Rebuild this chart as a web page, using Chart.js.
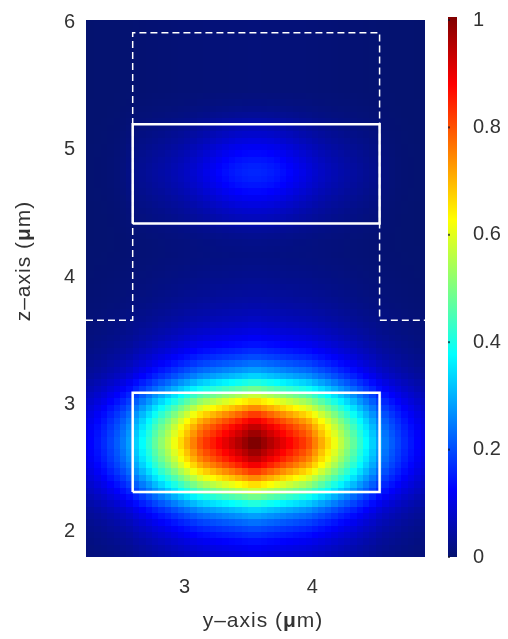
<!DOCTYPE html>
<html>
<head>
<meta charset="utf-8">
<script src="https://cdn.jsdelivr.net/npm/chart.js@4.4.1/dist/chart.umd.min.js"></script>
<style>
  html, body { margin: 0; padding: 0; background: #fff; }
  canvas { display: block; }
</style>
</head>
<body>
<canvas id="myChart" width="508" height="639"></canvas>
<script>
// field grid: cell centres start here, 0.05 um cells
const gridY0 = 2.225;
const gridZ0 = 1.825;
const gridStep = 0.05;

// lower guide mode, profile across y and along z
const lowerY = [
  0.11, 0.125, 0.145, 0.165, 0.19, 0.215, 0.245, 0.28, 0.33, 0.375, 0.42, 0.47, 0.515, 0.56,
  0.61, 0.66, 0.705, 0.75, 0.795, 0.825, 0.85, 0.875, 0.9, 0.925, 0.95, 0.975, 1.0,
  1.0, 0.975, 0.95, 0.925, 0.9, 0.875, 0.85, 0.825, 0.795, 0.75, 0.705, 0.66, 0.61,
  0.56, 0.515, 0.47, 0.42, 0.375, 0.33, 0.28, 0.245, 0.215, 0.19, 0.165, 0.145, 0.125, 0.11
];
const lowerZ = [
  0.10, 0.118, 0.14, 0.167, 0.198, 0.235, 0.28, 0.332, 0.406, 0.486, 0.57, 0.655,
  0.739, 0.817, 0.885, 0.935, 0.97, 1.0, 1.0, 0.97, 0.935, 0.885, 0.817, 0.739,
  0.655, 0.57, 0.486, 0.406, 0.332, 0.28, 0.235, 0.198, 0.167, 0.14, 0.118, 0.10,
  0.085, 0.072, 0.062, 0.053, 0.046, 0.04, 0.035, 0.031, 0.027, 0.024, 0.021, 0.019,
  0.017, 0.015, 0.014, 0.013, 0.012, 0.011, 0.01, 0.01, 0.01, 0.01, 0.01, 0.01,
  0.01, 0.01, 0.01, 0.01, 0.01, 0.01, 0.01, 0.01, 0.01, 0.01, 0.01, 0.01,
  0.01, 0.01, 0.01, 0.01, 0.01, 0.01, 0.01, 0.01, 0.01, 0.01, 0.01, 0.01, 0.01
];

// weak glow in the upper guide
const upperY = [
  0.01, 0.01, 0.015, 0.02, 0.03, 0.045, 0.07, 0.12, 0.16, 0.19, 0.22, 0.25, 0.28, 0.315,
  0.355, 0.40, 0.45, 0.51, 0.575, 0.645, 0.715, 0.785, 0.85, 0.91, 0.955, 0.985, 1.0,
  1.0, 0.985, 0.955, 0.91, 0.85, 0.785, 0.715, 0.645, 0.575, 0.51, 0.45, 0.40, 0.355,
  0.315, 0.28, 0.25, 0.22, 0.19, 0.16, 0.12, 0.07, 0.045, 0.03, 0.02, 0.015, 0.01, 0.01
];
const upperZ = [
  0, 0, 0, 0, 0, 0, 0, 0, 0, 0, 0, 0,
  0, 0, 0, 0, 0, 0, 0, 0, 0, 0, 0, 0,
  0, 0, 0, 0, 0, 0, 0, 0, 0, 0, 0, 0,
  0, 0, 0, 0, 0, 0, 0, 0, 0, 0, 0, 0,
  0.004, 0.008, 0.015, 0.025, 0.04, 0.057, 0.072, 0.088, 0.105, 0.121, 0.135, 0.145,
  0.15, 0.145, 0.135, 0.121, 0.105, 0.088, 0.072, 0.057, 0.04, 0.025, 0.015, 0.008,
  0.004, 0, 0, 0, 0, 0, 0, 0, 0, 0, 0, 0, 0
];

const yTicks = [3, 4];
const zTicks = [2, 3, 4, 5, 6];
const barTicks = [0, 0.2, 0.4, 0.6, 0.8, 1];

// guide outlines (um)
const coreY = [2.595, 4.525];
const lowerCoreZ = [2.31, 3.09];
const upperCoreZ = [4.42, 5.20];
const ridgeY = [2.23, 2.595, 2.595, 4.525, 4.525, 4.88];
const ridgeZ = [3.66, 3.66, 5.92, 5.92, 3.66, 3.66];

const font = "'Liberation Sans', Arial, sans-serif";
const textColor = '#333';

const jetStops = [
  [0, [4, 18, 110]],
  [0.125, [0, 0, 255]],
  [0.375, [0, 255, 255]],
  [0.625, [255, 255, 0]],
  [0.875, [255, 0, 0]],
  [1, [128, 0, 0]]
];

function jet(v) {
  v = Math.max(0, Math.min(1, v));
  for (let k = 1; k < jetStops.length; k++) {
    const [p1, c1] = jetStops[k];
    const [p0, c0] = jetStops[k - 1];
    if (v <= p1) {
      const t = (v - p0) / (p1 - p0);
      const c = c0.map((a, n) => Math.round(a + (c1[n] - a) * t));
      return `rgb(${c[0]},${c[1]},${c[2]})`;
    }
  }
  return 'rgb(128,0,0)';
}

function box(ys, zs) {
  return [
    {x: ys[0], y: zs[0]}, {x: ys[1], y: zs[0]}, {x: ys[1], y: zs[1]},
    {x: ys[0], y: zs[1]}, {x: ys[0], y: zs[0]}
  ];
}

const heatmap = {
  id: 'heatmap',
  beforeDatasetsDraw(chart) {
    const {ctx, chartArea: a, scales: {x, y}} = chart;
    ctx.save();
    ctx.beginPath();
    ctx.rect(a.left, a.top, a.right - a.left, a.bottom - a.top);
    ctx.clip();
    ctx.fillStyle = jet(0);
    ctx.fillRect(a.left, a.top, a.right - a.left, a.bottom - a.top);
    for (let i = 0; i < lowerY.length; i++) {
      const yc = gridY0 + i * gridStep;
      const x0 = Math.floor(x.getPixelForValue(yc - gridStep / 2));
      const x1 = Math.ceil(x.getPixelForValue(yc + gridStep / 2));
      for (let j = 0; j < lowerZ.length; j++) {
        const zc = gridZ0 + j * gridStep;
        const y0 = Math.floor(y.getPixelForValue(zc + gridStep / 2));
        const y1 = Math.ceil(y.getPixelForValue(zc - gridStep / 2));
        ctx.fillStyle = jet(lowerY[i] * lowerZ[j] + upperY[i] * upperZ[j]);
        ctx.fillRect(x0, y0, x1 - x0, y1 - y0);
      }
    }
    ctx.restore();
  }
};

// axis title with a bold mu, centred on (cx, cy)
function drawTitle(ctx, text, cx, cy, rot) {
  const parts = [[text + ' (', ''], ['\u03bc', 'bold '], ['m)', '']];
  ctx.save();
  ctx.translate(cx, cy);
  ctx.rotate(rot);
  ctx.fillStyle = textColor;
  ctx.textBaseline = 'middle';
  ctx.textAlign = 'left';
  ctx.letterSpacing = '1px';
  let total = 0;
  parts.forEach(([s, b]) => { ctx.font = b + '21px ' + font; total += ctx.measureText(s).width; });
  let px = -total / 2;
  parts.forEach(([s, b]) => {
    ctx.font = b + '21px ' + font;
    ctx.fillText(s, px, 0);
    px += ctx.measureText(s).width;
  });
  ctx.restore();
}

const colorbar = {
  id: 'colorbar',
  afterDraw(chart) {
    const {ctx} = chart;
    const cb = chart.scales.cb;
    const top = cb.getPixelForValue(1) - 3;
    const bottom = cb.getPixelForValue(0);
    const left = 448, w = 9;
    const g = ctx.createLinearGradient(0, bottom, 0, top);
    jetStops.forEach(([p, c]) => g.addColorStop(p, `rgb(${c[0]},${c[1]},${c[2]})`));
    ctx.save();
    ctx.fillStyle = g;
    ctx.fillRect(left, top, w, bottom - top);
    ctx.fillStyle = 'rgba(20,20,40,0.7)';
    barTicks.forEach(v => {
      const py = cb.getPixelForValue(v);
      ctx.fillRect(left, py - 1, 2, 2);
    });
    ctx.restore();

    drawTitle(ctx, 'y\u2013axis', 263, 621, 0);
    drawTitle(ctx, 'z\u2013axis', 24, 261, -Math.PI / 2);
  }
};

const lineStyle = {
  showLine: true, pointRadius: 0, borderColor: '#ffffff', borderWidth: 2.5, fill: false
};

const data = {
  datasets: [
    {...lineStyle, label: 'lower guide', data: box(coreY, lowerCoreZ)},
    {...lineStyle, label: 'upper guide', data: box(coreY, upperCoreZ)},
    {
      ...lineStyle, label: 'ridge', borderWidth: 1.5, borderDash: [7, 4],
      data: ridgeY.map((v, k) => ({x: v, y: ridgeZ[k]}))
    }
  ]
};

const tickFont = {family: font, size: 20};
const fmt = v => String(+Number(v).toFixed(1));

new Chart(document.getElementById('myChart').getContext('2d'), {
  type: 'scatter',
  data: data,
  options: {
    responsive: false,
    animation: false,
    layout: {padding: {top: 20, left: 0, right: 0, bottom: 0}},
    plugins: {legend: {display: false}, tooltip: {enabled: false}},
    scales: {
      x: {
        type: 'linear', position: 'bottom', min: 2.23, max: 4.88,
        grid: {display: false, drawTicks: false}, border: {display: false},
        afterBuildTicks: s => { s.ticks = yTicks.map(v => ({value: v})); },
        afterFit: s => { s.height = 82; },
        ticks: {font: tickFont, color: textColor, padding: 18, callback: fmt}
      },
      y: {
        type: 'linear', position: 'left', min: 1.80, max: 6.02,
        grid: {display: false, drawTicks: true, tickLength: 11}, border: {display: false},
        afterBuildTicks: s => { s.ticks = zTicks.map(v => ({value: v})); },
        afterFit: s => { s.width = 86; },
        ticks: {font: tickFont, color: textColor, padding: 0, callback: fmt}
      },
      cb: {
        type: 'linear', position: 'right', min: 0, max: 1,
        grid: {display: false, drawTicks: true, tickLength: 48}, border: {display: false},
        afterBuildTicks: s => { s.ticks = barTicks.map(v => ({value: v})); },
        afterFit: s => { s.width = 83; },
        ticks: {font: tickFont, color: textColor, padding: 0, callback: fmt}
      }
    }
  },
  plugins: [heatmap, colorbar]
});
</script>
</body>
</html>
